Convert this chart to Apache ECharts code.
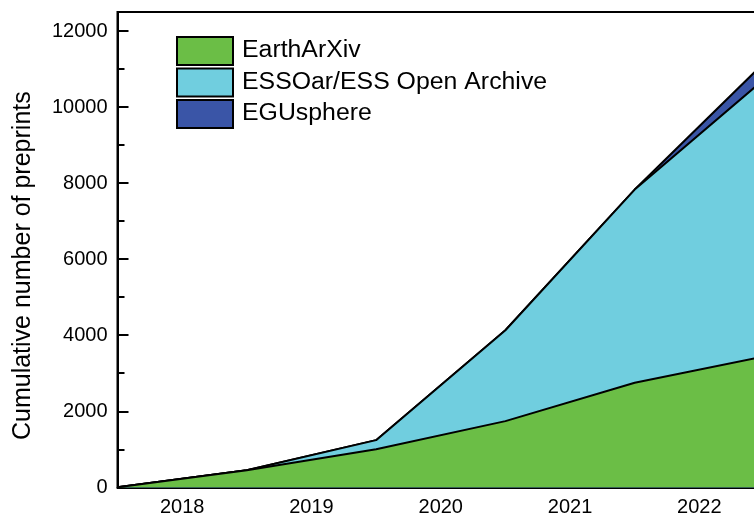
<html style="height: 100%">
	<head>
		<meta charset="utf-8">
	</head>
	<body style="height: 100%; width: 100%; margin: 0; background: #fff">
		<div id="container" style="height: 100%;width: 100%;"></div>
		<script type="text/javascript" src="https://cdn.jsdelivr.net/npm/echarts@6/dist/echarts.min.js"></script>
		<script type="text/javascript">
			var dom = document.getElementById("container");
			var myChart = echarts.init(dom);
			var option;

			// year boundaries (end of each year), cumulative counts per server
			var years = [2017.5, 2018.5, 2019.5, 2020.5, 2021.5, 2022.5];
			var names = ["EarthArXiv", "ESSOar/ESS Open Archive", "EGUsphere"];
			var colors = ["#6bbe46", "#70cedf", "#3a55a7"];
			var earthArxiv = [0, 450, 1000, 1740, 2750, 3440];
			var essoar = [0, 0, 240, 2390, 5080, 7290];
			var egusphere = [0, 0, 0, 0, 0, 430];

			var font = "Liberation Sans, Arial, sans-serif";

			// stack by hand: each band is drawn as its running total, filled down to 0
			var seriesVals = [earthArxiv, essoar, egusphere];
			var running = [0, 0, 0, 0, 0, 0];
			var series = [];
			for (var i = 0; i < names.length; i++) {
				var pts = [];
				for (var j = 0; j < years.length; j++) {
					running[j] += seriesVals[i][j];
					pts.push([years[j], running[j]]);
				}
				series.push({
					name: names[i],
					type: 'line',
					symbol: 'none',
					z: 5 - i,
					lineStyle: { color: '#000', width: 2 },
					areaStyle: { color: colors[i], opacity: 1 },
					data: pts
				});
			}

			// legend boxes drawn by hand (black-bordered swatches)
			var legendItems = [];
			for (var i = 0; i < names.length; i++) {
				var y = 37 + i * 31.5;
				legendItems.push({
					type: 'rect',
					shape: { x: 177, y: y, width: 56, height: 28 },
					style: { fill: colors[i], stroke: '#000', lineWidth: 2 }
				});
				legendItems.push({
					type: 'text',
					x: 242,
					y: y + 14,
					scaleX: 1.08,
					style: {
						text: names[i],
						fill: '#000',
						font: '23px ' + font,
						verticalAlign: 'middle'
					}
				});
			}

			option = {
				backgroundColor: '#fff',
				animation: false,
				grid: {
					left: 117.5,
					top: 12,
					width: 646.5,
					height: 475.3,
					outerBoundsMode: 'none',
					containLabel: false,
					show: true,
					borderColor: '#000',
					borderWidth: 2
				},
				xAxis: [{
					type: 'value',
					min: 2017.5,
					max: 2022.5,
					interval: 1,
					position: 'bottom',
					axisLine: { lineStyle: { color: '#000', width: 2 } },
					axisTick: { inside: true, length: 10, lineStyle: { color: '#000', width: 2 } },
					axisLabel: { show: false },
					splitLine: { show: false }
				}, {
					type: 'value',
					min: 2017.5,
					max: 2022.5,
					interval: 0.5,
					position: 'bottom',
					axisLine: { show: false },
					axisTick: { inside: true, length: 6, lineStyle: { color: '#000', width: 2 } },
					axisLabel: {
						margin: 10,
						color: '#000',
						fontSize: 20,
						fontFamily: font,
						formatter: function(v) {
							return Math.abs(v - Math.round(v)) < 1e-6 ? String(Math.round(v)) : '';
						}
					},
					splitLine: { show: false }
				}],
				yAxis: [{
					type: 'value',
					min: 0,
					max: 12500,
					interval: 1000,
					position: 'left',
					axisLine: { show: true, lineStyle: { color: '#000', width: 2 } },
					axisTick: { show: true, inside: true, length: 7, lineStyle: { color: '#000', width: 2 } },
					axisLabel: { show: false },
					splitLine: { show: false }
				}, {
					type: 'value',
					min: 0,
					max: 12500,
					interval: 2000,
					position: 'left',
					name: 'Cumulative number of preprints',
					nameLocation: 'middle',
					nameGap: 82,
					nameTextStyle: {
						color: '#000',
						fontSize: 25,
						fontFamily: font,
						padding: [0, 32, 0, 0]
					},
					axisLine: { show: true, lineStyle: { color: '#000', width: 2 } },
					axisTick: { show: true, inside: true, length: 11, lineStyle: { color: '#000', width: 2 } },
					axisLabel: {
						margin: 10,
						color: '#000',
						fontSize: 20,
						fontFamily: font,
						showMaxLabel: false,
						formatter: function(v) { return String(v); }
					},
					splitLine: { show: false }
				}],
				graphic: legendItems,
				series: series
			};

			myChart.setOption(option);
		</script>
	</body>
</html>
